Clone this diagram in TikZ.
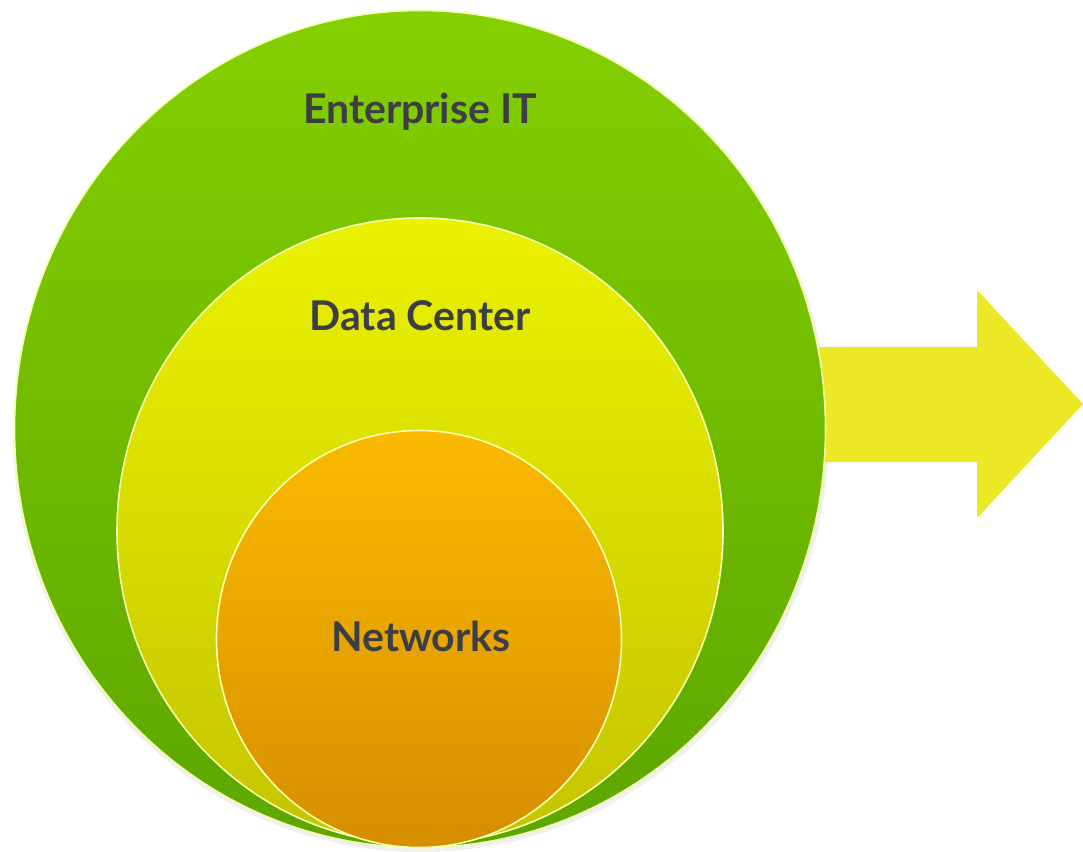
\documentclass[tikz,border=0pt]{standalone}
\usepackage{fontspec}
\setmainfont{Lato}
\usetikzlibrary{shapes.geometric}
\definecolor{gtop}{HTML}{84D000}
\definecolor{gbot}{HTML}{5CA600}
\definecolor{ytop}{HTML}{EAF200}
\definecolor{ybot}{HTML}{C4C400}
\definecolor{otop}{HTML}{FABA00}
\definecolor{obot}{HTML}{D68E00}
\definecolor{arrowcol}{HTML}{ECE825}
\definecolor{txt}{HTML}{3C3E44}
\definecolor{rim}{HTML}{F4FFB0}
\tikzset{
  ring/.style={ellipse, inner sep=0pt, outer sep=0pt, draw=rim, line width=1.6pt},
  lbl/.style={font=\fontsize{41}{48}\selectfont\bfseries, text=txt, inner sep=0pt}
}
\begin{document}
\begin{tikzpicture}[x=1pt,y=-1pt]
\useasboundingbox (0,0) rectangle (1083,851);
% soft shadow
\fill[black,opacity=0.06] (421,433) ellipse (408 and 419);
% arrow
\fill[arrowcol] (820,347) -- (977,347) -- (977,290) -- (1083,404) -- (977,518) -- (977,462) -- (820,462) -- cycle;
% circles
\node[ring, minimum width=811pt, minimum height=837pt, top color=gtop, bottom color=gbot] (outer) at (420,429) {};
\node[ring, minimum width=606pt, minimum height=626pt, top color=ytop, bottom color=ybot] (middle) at (420,531) {};
\node[ring, minimum width=405pt, minimum height=417pt, top color=otop, bottom color=obot] (inner) at (419,639) {};
% labels
\node[lbl] (l1) at (420,112) {Enterprise IT};
\node[lbl] (l2) at (420,316) {Data Center};
\node[lbl] (l3) at (421,636) {Networks};
\end{tikzpicture}
\end{document}
